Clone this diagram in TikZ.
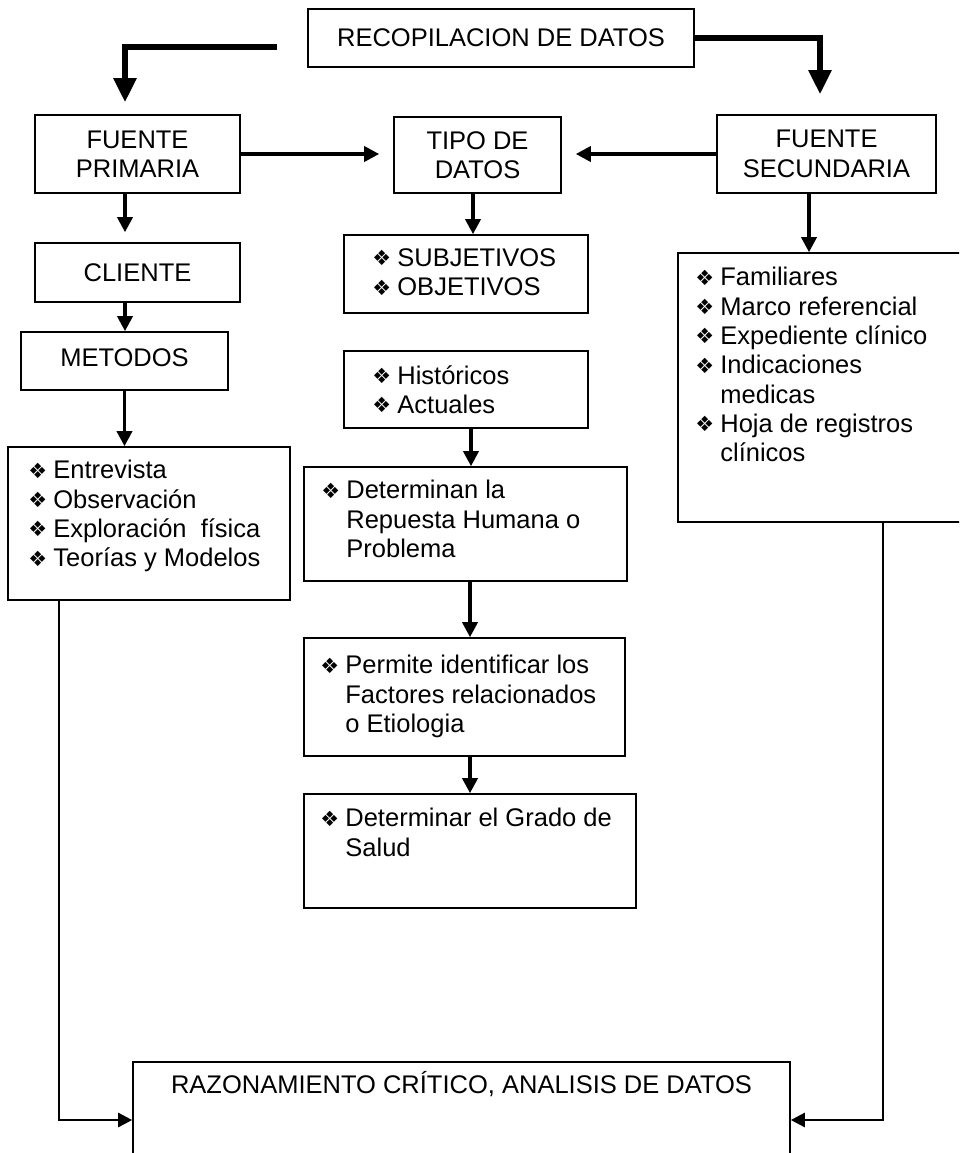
\documentclass[tikz,border=0pt]{standalone}
\usepackage{fontspec}
\setmainfont{Liberation Sans}
\newfontfamily\dingfont{DejaVu Sans}
\usetikzlibrary{arrows.meta}
\newcommand{\bul}{\makebox[25pt][l]{\raisebox{0.5pt}{\dingfont\fontsize{21}{21}\selectfont ❖}}}
\newcommand{\ind}{\hspace*{25pt}}

\begin{document}
\begin{tikzpicture}[x=1pt,y=-1pt,
  font=\fontsize{25.5}{29.3}\selectfont,
  caja/.style n args={2}{draw, line width=1.6pt, inner sep=0pt, minimum width=#1, minimum height=#2},
  lista/.style={anchor=north west, inner sep=0pt, align=left},
  flecha/.style={-{Triangle[width=15pt,length=15pt]}, line width=3.5pt},
  flechagrande/.style={-{Triangle[width=22pt,length=24pt]}, line width=5.5pt},
  flechalarga/.style={-{Triangle[width=14pt,length=14pt]}, line width=2.5pt}]
\useasboundingbox (0,0) rectangle (959,1153);
\clip (0,0) rectangle (959,1153);

\node[caja={386pt}{58pt}] (recop) at (501,38) {RECOPILACION DE DATOS};
\node[caja={205pt}{78pt}, align=center] (fp) at (137.5,154) {FUENTE\\PRIMARIA};
\node[caja={167pt}{76pt}, align=center] (td) at (477.5,155) {TIPO DE\\DATOS};
\node[caja={219pt}{78pt}, align=center] (fs) at (826.5,154) {FUENTE\\SECUNDARIA};
\node[caja={205pt}{59pt}] (cliente) at (137.5,272.5) {CLIENTE};
\node[caja={207pt}{58pt}, text depth=6pt] (metodos) at (124.5,361) {METODOS};
\node[caja={282pt}{153pt}] (entrev) at (149,523.5) {};
\node[caja={244pt}{78pt}] (subj) at (466,274) {};
\node[caja={244pt}{77pt}] (hist) at (466,389.5) {};
\node[caja={323pt}{114pt}] (determ) at (465.5,524) {};
\node[caja={321pt}{118pt}] (permite) at (464.5,697) {};
\node[caja={332pt}{114pt}] (grado) at (470,851) {};
\node[caja={302pt}{269pt}] (fam) at (829,387.5) {};
\node[caja={657pt}{108pt}] (razon) at (461.5,1116) {};

% textos de las listas
\node[lista] (subjtxt) at ([shift={(29,14)}]subj.north west) {\bul SUBJETIVOS\\ \bul OBJETIVOS};
\node[lista] (histtxt) at ([shift={(29,15)}]hist.north west) {\bul Históricos\\ \bul Actuales};
\node[lista] (entrevtxt) at ([shift={(21,14)}]entrev.north west) {\bul Entrevista\\ \bul Observación\\ \bul Exploración~ física\\ \bul Teorías y Modelos};
\node[lista] (determtxt) at ([shift={(18,14)}]determ.north west) {\bul Determinan la\\ \ind Repuesta Humana o\\ \ind Problema};
\node[lista] (permitetxt) at ([shift={(17,18)}]permite.north west) {\bul Permite identificar los\\ \ind Factores relacionados\\ \ind o Etiologia};
\node[lista] (gradotxt) at ([shift={(17,15)}]grado.north west) {\bul Determinar el Grado de\\ \ind Salud};
\node[lista] (famtxt) at ([shift={(18,15)}]fam.north west) {\bul Familiares\\ \bul Marco referencial\\ \bul Expediente clínico\\ \bul Indicaciones\\ \ind medicas\\ \bul Hoja de registros\\ \ind clínicos};
\node (razontxt) at ([yshift=-23pt]razon.north) {RAZONAMIENTO CRÍTICO, ANALISIS DE DATOS};

\coordinate (izq) at ([shift={(-30,9)}]recop.west);
\draw[flechagrande, shorten >=12pt] (izq) -| ([xshift=-12.5pt]fp.north);
\draw[flechagrande, shorten >=20pt] (recop.east) -| ([xshift=-6.5pt]fs.north);
\draw[flecha, shorten >=14pt] (fp.east) -- (fp.east -| td.west);
\draw[flecha, shorten >=14pt] (fs.west) -- (fs.west -| td.east);
\draw[flecha, shorten >=10pt] ([xshift=-12.5pt]fp.south) -- ([xshift=-12.5pt]cliente.north);
\draw[flecha] ([xshift=-12.5pt]cliente.south) -- ([xshift=-12.5pt]cliente.south |- metodos.north);
\draw[flecha] (metodos.south) -- (metodos.south |- entrev.north);
\draw[flecha] ([xshift=-4.5pt]td.south) -- ([xshift=-4.5pt]td.south |- subj.north);
\draw[flecha] ([xshift=-17.5pt]fs.south) -- ([xshift=-17.5pt]fs.south |- fam.north);
\draw[flecha] ([xshift=5pt]hist.south) -- ([xshift=5pt]hist.south |- determ.north);
\draw[flecha] ([xshift=4.5pt]determ.south) -- ([xshift=4.5pt]determ.south |- permite.north);
\draw[flecha] ([xshift=5.5pt]permite.south) -- ([xshift=5.5pt]permite.south |- grado.north);
\draw[flechalarga] ([xshift=-90pt]entrev.south) |- ([yshift=-4pt]razon.west);
\draw[flechalarga] ([xshift=54pt]fam.south) |- ([yshift=-4pt]razon.east);
\end{tikzpicture}
\end{document}
